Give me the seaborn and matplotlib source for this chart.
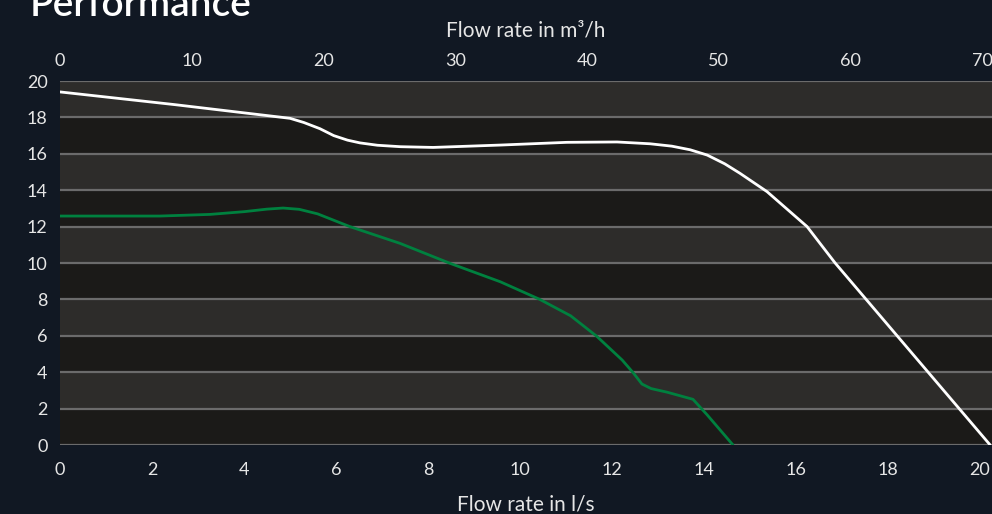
"""Pump performance curves: head vs flow rate, dark theme."""

import matplotlib

matplotlib.use("Agg")
import matplotlib.pyplot as plt
import numpy as np
import pandas as pd
import seaborn as sns

# flow rate in l/s and head in m
white_flow = [0, 2.5, 4.5, 5.0, 5.3, 5.65, 5.95, 6.25, 6.52, 6.9, 7.4, 8.11, 9.57, 11.02,
              12.11, 12.83, 13.3, 13.70, 14.07, 14.45, 14.78, 15.37, 16.24, 16.85, 20.22]
white_head = [19.4, 18.7, 18.1, 17.95, 17.72, 17.38, 17.0, 16.75, 16.6, 16.47, 16.39,
              16.35, 16.48, 16.63, 16.65, 16.55, 16.42, 16.22, 15.93, 15.45, 14.93, 13.92,
              12.0, 10.0, 0.0]

green_flow = [0, 2.17, 3.26, 4.0, 4.5, 4.85, 5.2, 5.6, 6.30, 7.39, 8.48, 9.57, 10.43, 11.1,
              11.67, 12.22, 12.46, 12.65, 12.85, 13.2, 13.76, 14.07, 14.63]
green_head = [12.58, 12.58, 12.67, 12.82, 12.96, 13.02, 12.95, 12.7, 12.0, 11.08, 9.98,
              8.97, 8.0, 7.1, 5.97, 4.67, 3.97, 3.35, 3.1, 2.9, 2.51, 1.65, 0.0]

y_ticks = list(range(0, 21, 2))
x_ticks = list(range(0, 21, 2))
top_ticks = list(range(0, 71, 10))

BG = "#111823"
BAND_LIGHT = "#2d2c2a"
BAND_DARK = "#1b1a18"
GRID = "#6b6b6b"
TEXT = "#e6e6e6"

sns.set_theme(style="dark")
plt.rcParams["font.family"] = ["Lato", "DejaVu Sans"]

fig = plt.figure(figsize=(9.92, 5.14), dpi=100, facecolor=BG)
ax = fig.add_axes([60 / 992, 69 / 514, 932 / 992, 364 / 514])
ax.set_facecolor(BAND_DARK)

for i, lo in enumerate(y_ticks[:-1]):
    ax.axhspan(lo, y_ticks[i + 1], color=BAND_LIGHT if i % 2 else BAND_DARK, lw=0, zorder=0)

df_white = pd.DataFrame({"flow": white_flow, "head": white_head})
df_green = pd.DataFrame({"flow": green_flow, "head": green_head})
sns.lineplot(data=df_white, x="flow", y="head", ax=ax, color="white", lw=2.0,
             sort=False, estimator=None, zorder=3)
sns.lineplot(data=df_green, x="flow", y="head", ax=ax, color="#00813f", lw=2.0,
             sort=False, estimator=None, zorder=3)

ax.set_xlim(0, 20.26)
ax.set_ylim(0, 20)
ax.set_xticks(x_ticks)
ax.set_yticks(y_ticks)
ax.grid(False)
for yv in y_ticks:
    ax.axhline(yv, color=GRID, lw=1.6, zorder=2)
for s in ax.spines.values():
    s.set_visible(False)
ax.tick_params(axis="both", length=0, colors=TEXT, labelsize=13)
ax.tick_params(axis="x", pad=12)
ax.tick_params(axis="y", pad=9)
ax.set_xlabel("Flow rate in l/s", color=TEXT, fontsize=15, labelpad=12)
ax.set_ylabel("")

ax2 = ax.twiny()
ax2.set_xlim(0, 70.76)
ax2.set_xticks(top_ticks)
for s in ax2.spines.values():
    s.set_visible(False)
ax2.tick_params(axis="x", length=0, colors=TEXT, labelsize=13, pad=8.5)
ax2.set_xlabel("Flow rate in m³/h", color=TEXT, fontsize=15, labelpad=12)
ax2.grid(False)

fig.text(30 / 992, 1 - 16 / 514, "Performance", color="white", fontsize=28,
         fontweight="semibold", ha="left", va="baseline")

plt.savefig("out.png", dpi=100, facecolor=BG)
plt.close()
